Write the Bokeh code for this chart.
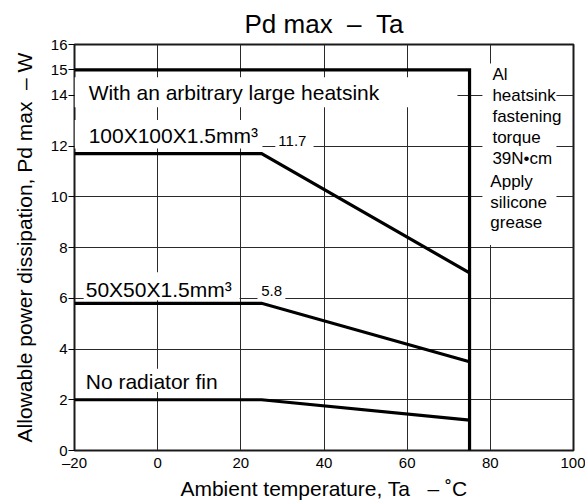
from bokeh.plotting import figure
from bokeh.models import Range1d, FixedTicker, Label, BoxAnnotation
from bokeh.embed import file_html
from bokeh.resources import INLINE

# ---- data ----
ta_inf = [-20, 75, 75]
pd_inf = [15.0, 15.0, 0.0]
ta_100 = [-20, 25, 75]
pd_100 = [11.7, 11.7, 7.0]
ta_50 = [-20, 25, 75]
pd_50 = [5.8, 5.8, 3.5]
ta_nofin = [-20, 25, 75]
pd_nofin = [2.0, 2.0, 1.2]

x_ticks = [-20, 0, 20, 40, 60, 80, 100]
x_tick_labels = ["\u201320", "0", "20", "40", "60", "80", "100"]
y_ticks = [0, 2, 4, 6, 8, 10, 12, 14, 15, 16]
y_grid = [2, 4, 6, 8, 10, 12, 14]
x_grid = [0, 20, 40, 60, 80]

curve_labels = ["With an arbitrary large heatsink", "100X100X1.5mm\u00b3",
                "50X50X1.5mm\u00b3", "No radiator fin"]
value_labels = ["11.7", "5.8"]
note_lines_1 = ["Al", "heatsink", "fastening", "torque", "39N\u2022cm"]
note_lines_2 = ["Apply", "silicone", "grease"]

FONT = "Liberation Sans"
NB = "\u00a0"

p = figure(width=585, height=502, output_backend="svg", toolbar_location=None,
           x_range=Range1d(-20, 100), y_range=Range1d(0, 16),
           min_border_left=74, min_border_right=12, min_border_top=44, min_border_bottom=50,
           title="Pd max" + NB * 2 + "\u2013" + NB * 2 + "Ta")

p.title.text_font = FONT
p.title.text_font_size = "26px"
p.title.text_font_style = "normal"
p.title.align = "center"
p.title.standoff = 11
p.title.text_color = "black"

p.outline_line_color = "#1a1a1a"
p.outline_line_width = 2
p.background_fill_color = "white"
p.border_fill_color = "white"

# axes
p.xaxis.ticker = FixedTicker(ticks=x_ticks)
p.xaxis.major_label_overrides = {t: s for t, s in zip(x_ticks, x_tick_labels)}
p.yaxis.ticker = FixedTicker(ticks=y_ticks)
for ax in (p.xaxis[0], p.yaxis[0]):
    ax.axis_line_color = None
    ax.minor_tick_line_color = None
    ax.major_label_text_font = FONT
    ax.major_label_text_color = "black"
    ax.axis_label_text_font = FONT
    ax.axis_label_text_font_size = "21px"
    ax.axis_label_text_font_style = "normal"
    ax.axis_label_text_color = "black"
p.xaxis.major_label_text_font_size = "15px"
p.yaxis.major_label_text_font_size = "15px"
p.xaxis.major_tick_out = 0
p.xaxis.major_tick_in = 0
p.xaxis.major_label_standoff = 3
p.xaxis.axis_label_standoff = 3
p.xaxis.axis_label = "Ambient temperature, Ta" + NB * 3 + "\u2013" + NB + "\u02daC"
p.yaxis.major_tick_out = 6
p.yaxis.major_tick_in = 0
p.yaxis.major_tick_line_color = "black"
p.yaxis.major_label_standoff = 1
p.yaxis.axis_label_standoff = 12
p.yaxis.axis_label = "Allowable power dissipation, Pd max" + NB * 2 + "\u2013" + NB + "W"

p.xgrid.ticker = FixedTicker(ticks=x_grid)
p.ygrid.ticker = FixedTicker(ticks=y_grid)
for g in (p.xgrid[0], p.ygrid[0]):
    g.grid_line_color = "#2a2a2a"
    g.grid_line_width = 1

# white boxes behind texts (cover grid lines)
def wbox(l, r, t, b):
    p.add_layout(BoxAnnotation(left=l, right=r, top=t, bottom=b, fill_color="white",
                               fill_alpha=1.0, line_alpha=0, level="underlay"))

wbox(-20, 72.1, 14.71, 13.53)
wbox(-20, 25.2, 13.02, 11.9)
wbox(28.3, 37.5, 12.7, 11.9)
wbox(-17.8, 19.7, 7.02, 5.92)
wbox(24.0, 30.7, 6.67, 5.92)
wbox(-17.8, 14.0, 3.22, 2.31)
wbox(78.1, 95.9, 15.25, 8.1)

# curves
for xs, ys in ((ta_inf, pd_inf), (ta_100, pd_100), (ta_50, pd_50), (ta_nofin, pd_nofin)):
    p.line(xs, ys, line_color="black", line_width=3.2, line_join="miter")

def lab(x, y, text, size, align="left"):
    p.add_layout(Label(x=x, y=y, text=text, text_font=FONT, text_font_size=size,
                       text_baseline="middle", text_align=align, text_color="black"))

lab(-16.6, 14.12, curve_labels[0], "21px")
lab(-16.6, 12.4, curve_labels[1], "21px")
lab(-17.3, 6.35, curve_labels[2], "21px")
lab(-17.3, 2.7, curve_labels[3], "21px")
lab(32.4, 12.2, value_labels[0], "15px", "center")
lab(27.4, 6.27, value_labels[1], "15px", "center")

for i, t in enumerate(note_lines_1):
    lab(80.5, 14.82 - i * 0.833, t, "17px")
for i, t in enumerate(note_lines_2):
    lab(80.0, 10.59 - i * 0.81, t, "17px")

open("out.html", "w").write(file_html(p, INLINE))
